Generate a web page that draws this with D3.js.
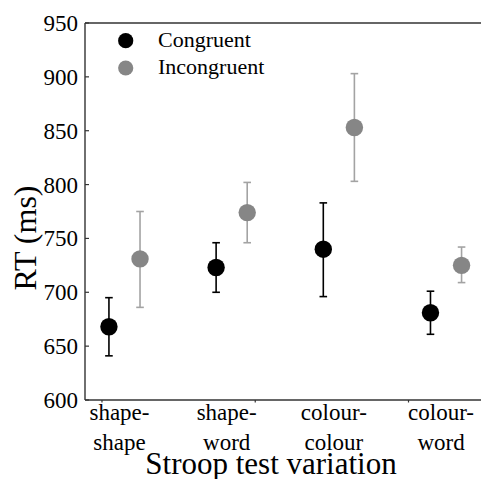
<!DOCTYPE html>
<html>
<head>
<meta charset="utf-8">
<script src="https://cdn.jsdelivr.net/npm/d3@7"></script>
<style>
  html, body { margin: 0; padding: 0; background: #fff; }
  svg { display: block; }
  svg text { font-family: "Liberation Serif", "Times New Roman", serif; }
</style>
</head>
<body>
<svg id="chart" width="481" height="479"></svg>
<script>
// Stroop task reaction times (mean with error bars) per test variation
const categories = ["shape-shape", "shape-word", "colour-colour", "colour-word"];
const categoryLines = [["shape-", "shape"], ["shape-", "word"], ["colour-", "colour"], ["colour-", "word"]];

const congruentMean = [668, 723, 740, 681];
const congruentLow  = [641, 700, 696, 661];
const congruentHigh = [695, 746, 783, 701];

const incongruentMean = [731, 774, 853, 725];
const incongruentLow  = [686, 746, 803, 709];
const incongruentHigh = [775, 802, 903, 742];

const yTicks = [600, 650, 700, 750, 800, 850, 900, 950];
const xMinorTicks = [0.79, 2.22, 3.65];

const seriesNames = ["Congruent", "Incongruent"];

const FONT = "Liberation Serif, Times New Roman, serif";
const svg = d3.select("#chart");
const W = 481;
const plot = { left: 85, top: 23, bottom: 400, right: W };

const y = d3.scaleLinear().domain([600, 950]).range([plot.bottom, plot.top]);
// category i sits at position i+1 on a continuous axis
const x = d3.scaleLinear().domain([0, 5]).range([17.3, 553.2]);
const dodge = 0.145;

const series = [
  { name: seriesNames[0], mean: congruentMean, low: congruentLow, high: congruentHigh,
    dot: "#000000", bar: "#000000", shift: -dodge },
  { name: seriesNames[1], mean: incongruentMean, low: incongruentLow, high: incongruentHigh,
    dot: "#868686", bar: "#a3a3a3", shift: dodge }
];

const axisColor = "#333333";

// frame: left, top and bottom lines
svg.append("line").attr("x1", plot.left).attr("x2", plot.left)
  .attr("y1", plot.top).attr("y2", plot.bottom)
  .attr("stroke", axisColor).attr("stroke-width", 1.4);
svg.append("line").attr("x1", plot.left).attr("x2", plot.right)
  .attr("y1", plot.top).attr("y2", plot.top)
  .attr("stroke", axisColor).attr("stroke-width", 1.4);
svg.append("line").attr("x1", plot.left).attr("x2", plot.right)
  .attr("y1", plot.bottom).attr("y2", plot.bottom)
  .attr("stroke", axisColor).attr("stroke-width", 1.4);

// y axis: inward ticks, labels on the left
const yAxis = svg.append("g").attr("transform", `translate(${plot.left},0)`);
yAxis.selectAll("line.tick").data(yTicks).join("line")
  .attr("class", "tick")
  .attr("x1", 0).attr("x2", 4)
  .attr("y1", d => y(d)).attr("y2", d => y(d))
  .attr("stroke", axisColor).attr("stroke-width", 1.2);
yAxis.selectAll("text").data(yTicks).join("text")
  .attr("x", -7).attr("y", d => y(d)).attr("dy", 8)
  .attr("text-anchor", "end")
  .attr("font-family", FONT)
  .attr("font-size", 23).attr("fill", "#000")
  .text(d => d);

// x axis: small outward ticks
svg.append("g").selectAll("line").data(xMinorTicks).join("line")
  .attr("x1", d => x(d)).attr("x2", d => x(d))
  .attr("y1", plot.bottom).attr("y2", plot.bottom + 2.5)
  .attr("stroke", axisColor).attr("stroke-width", 1.2);

// two-line category labels
const catG = svg.append("g");
categories.forEach((c, i) => {
  const t = catG.append("text")
    .attr("text-anchor", "middle")
    .attr("font-family", FONT)
    .attr("font-size", 23).attr("fill", "#000");
  categoryLines[i].forEach((line, k) => {
    t.append("tspan")
      .attr("x", x(i + 1) - 5)
      .attr("y", 420 + k * 30)
      .text(line);
  });
});

// axis titles
svg.append("text")
  .attr("x", 271).attr("y", 474)
  .attr("text-anchor", "middle")
  .attr("font-family", FONT)
  .attr("font-size", 31).attr("fill", "#000")
  .text("Stroop test variation");

svg.append("text")
  .attr("transform", "translate(36,238) rotate(-90)")
  .attr("text-anchor", "middle")
  .attr("font-family", FONT)
  .attr("font-size", 32).attr("fill", "#000")
  .text("RT (ms)");

// error bars and points
series.forEach(s => {
  const g = svg.append("g");
  const cx = i => x(i + 1 + s.shift);
  const idx = d3.range(categories.length);
  g.selectAll("line.stem").data(idx).join("line")
    .attr("x1", cx).attr("x2", cx)
    .attr("y1", i => y(s.low[i])).attr("y2", i => y(s.high[i]))
    .attr("stroke", s.bar).attr("stroke-width", 1.6);
  ["low", "high"].forEach(key => {
    g.selectAll("line.cap-" + key).data(idx).join("line")
      .attr("x1", i => cx(i) - 3.8).attr("x2", i => cx(i) + 3.8)
      .attr("y1", i => y(s[key][i])).attr("y2", i => y(s[key][i]))
      .attr("stroke", s.bar).attr("stroke-width", 1.6);
  });
  g.selectAll("circle").data(idx).join("circle")
    .attr("cx", cx).attr("cy", i => y(s.mean[i]))
    .attr("r", 8.7)
    .attr("fill", s.dot);
});

// legend
const legend = svg.append("g");
series.forEach((s, k) => {
  legend.append("circle")
    .attr("cx", 125.7).attr("cy", 40.7 + k * 27.3)
    .attr("r", 7.6).attr("fill", s.dot);
  legend.append("text")
    .attr("x", 158).attr("y", 47 + k * 26.5)
    .attr("font-family", FONT)
    .attr("font-size", 22).attr("fill", "#000")
    .text(s.name);
});
</script>
</body>
</html>
